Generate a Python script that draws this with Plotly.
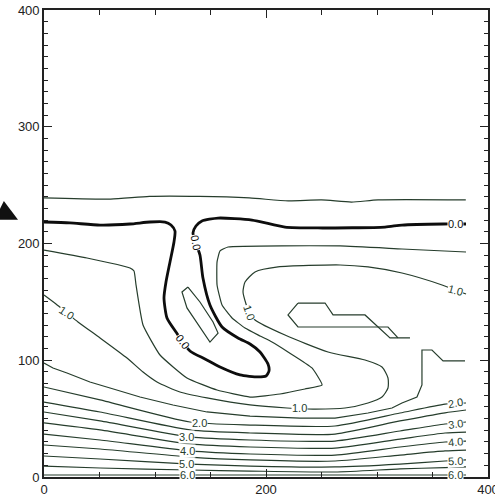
import plotly.graph_objects as go

# ---------------- contour lines (data units) ----------------
top_x = [0, 60, 95, 140, 185, 220, 250, 277, 301, 380]
top_y = [239, 238, 240.3, 240.3, 239, 236.5, 237.3, 235.5, 237.3, 237.3]

zero_x = [0, 23.4, 50.5, 77.5, 95.5, 109, 114.4, 118, 117.1, 113.5, 109.9, 108.1, 110.8, 118.9,
          131.5, 145, 158.6, 176.6, 192.8, 200, 202.7, 201.8, 194.6, 185.6, 174.8, 160.4, 149.5, 143.2, 140.5,
          134.2, 136.9, 142.3, 156.8, 187.4, 217.1, 246.8, 307.2, 322.5, 359.5, 380.2]
zero_y = [218.4, 217.6, 215.8, 216.7, 218.4, 218.4, 215.8, 210.7, 201.3, 184.2, 167.0, 153.3, 136.2, 124.2,
          107.9, 101.1, 94.2, 87.4, 85.7, 86.5, 90.8, 96.8, 107.1, 113.9, 119.1, 128.5, 147.3, 170.4, 190.1,
          209.0, 215.0, 219.3, 221.8, 220.1, 214.1, 213.3, 214.1, 215.8, 216.7, 216.7]

loop_x = [129.7, 124.3, 128.8, 140.5, 149.5, 156.8, 152.3, 140.5, 129.7]
loop_y = [162.7, 158.5, 144.8, 128.5, 115.6, 123.3, 132.8, 149.9, 162.7]

half_x = [0, 38.7, 77.5, 81.1, 82.9, 89.2, 104.5, 128.8, 155.9, 185.6, 212.6, 235.1, 250.5,
          241.4, 219.8, 205.4, 194.6, 181.1, 169.4, 160.4, 155.9, 155.9, 158.6, 165.8, 266.7, 322.5, 380.2]
half_y = [194.4, 187.6, 179.0, 176.4, 164.5, 130.2, 104.5, 84.8, 74.5, 68.5, 71.1, 75.4, 78.8,
          93.4, 107.1, 115.6, 120.8, 127.6, 136.2, 147.3, 164.5, 184.2, 193.6, 197.0, 197.9, 195.3, 192.7]

one_x = [0, 10.8, 20.7, 30.6, 50.5, 74.8, 89.2, 101.8, 122.5, 146.8, 185.6, 218.9, 242.3, 271.2, 291.9,
         304.5, 309.9, 309.9, 304.5, 289.2, 255.9, 217.1, 190.1, 184.7, 182, 179.3, 181.1, 190.1, 210.8,
         266.7, 291.9, 322.5, 358.6, 370.3, 380.2]
one_y = [155.9, 148.2, 140.5, 132.8, 119.1, 101.9, 89.9, 81.4, 72.8, 67.7, 61.7, 59.1, 58.2, 59.1, 63.4,
         68.5, 76.2, 84.8, 94.2, 100.2, 107.1, 121.6, 134.5, 141.3, 148.2, 158.5, 167.0, 175.6, 179.9,
         181.6, 179.9, 174.7, 164.5, 160.2, 156.7]

onehalf_x = [0, 8.1, 20.7, 41.4, 59.5, 86.5, 116.2, 146.8, 185.6, 230.6, 262.2, 291.9, 313.5, 322.5,
             336, 340.5, 340.5, 349.5, 359.5, 379.3]
onehalf_y = [97.6, 93.4, 89.1, 81.4, 76.2, 68.5, 61.7, 55.7, 52.2, 50.5, 50.5, 54.8, 59.1, 63.4,
             68.5, 78.8, 108.8, 108.8, 99.4, 99.4]

poly1_x = [228.8, 253.2, 260.4, 289.2, 311.7, 329.7]
poly1_y = [149.0, 149.0, 138.8, 138.8, 119.1, 119.1]
poly2_x = [228.8, 219.8, 228.8, 309.9, 318.9]
poly2_y = [149.0, 138.8, 128.5, 128.5, 119.1]

# bottom family of contours (2.0 ... 6.0 every 0.5)
low_x = [0, 50.5, 131.5, 185.6, 262.2, 320.7, 361.3, 380.2]
low_levels = ["2.0", "2.5", "3.0", "3.5", "4.0", "4.5", "5.0", "5.5", "6.0"]
low_y = [
    [77.1, 66.0, 47.1, 44.5, 43.7, 54.8, 62.5, 63.4],
    [64.2, 55.7, 40.3, 37.7, 36.8, 48.0, 55.0, 57.4],
    [55.7, 48.0, 34.3, 31.7, 30.8, 39.4, 45.4, 47.1],
    [46.3, 40.3, 28.3, 25.7, 24.8, 32.5, 37.7, 38.5],
    [36.8, 31.7, 22.3, 19.7, 18.8, 25.7, 30.0, 30.8],
    [27.4, 24.0, 17.1, 14.6, 13.7, 18.8, 22.3, 23.1],
    [18.0, 15.4, 11.1, 9.4, 8.6, 11.1, 13.7, 14.6],
    [9.4, 7.7, 6.0, 5.1, 4.3, 6.9, 8.1, 8.6],
    [1.7, 1.7, 1.7, 1.7, 1.7, 1.7, 1.7, 1.7],
]

# contour labels: text, x, y, angle
label_text = ["0.0", "0.0", "0.0", "1.0", "1.0", "1.0", "1.0",
              "2.0", "3.0", "4.0", "5.0", "6.0",
              "2.0", "3.0", "4.0", "5.0", "6.0"]
label_x = [125.2, 136.9, 370.3, 20.7, 230.6, 184.7, 370.3,
           140.5, 128.8, 129.7, 128.8, 129.7,
           370.3, 370.3, 370.3, 370.3, 370.3]
label_y = [115.6, 200.4, 216.7, 140.5, 59.1, 141.3, 160.2,
           46.3, 34.3, 22.3, 11.1, 1.7,
           63.4, 45.4, 30.0, 13.7, 1.7]
label_angle = [54, 78, 0, 33, 0, 70, 15,
               0, 0, 0, 0, 0,
               -10, -8, -5, -3, 0]

x_ticks = [0, 200, 400]
y_ticks = [0, 100, 200, 300, 400]

THIN = "#263d2c"
THICK = "#0d0d0d"

fig = go.Figure()

def add_line(x, y, color=THIN, width=1.2, shape="spline", smoothing=0.6):
    fig.add_trace(go.Scatter(x=x, y=y, mode="lines",
                             line=dict(color=color, width=width, shape=shape,
                                       smoothing=smoothing if shape == "spline" else None),
                             hoverinfo="skip", showlegend=False))

add_line(top_x, top_y)
add_line(half_x, half_y, smoothing=0.4)
add_line(one_x, one_y)
add_line(onehalf_x, onehalf_y, shape="linear")
add_line(poly1_x, poly1_y, shape="linear")
add_line(poly2_x, poly2_y, shape="linear")
add_line(loop_x, loop_y, shape="linear")
for ys in low_y:
    add_line(low_x, ys)
add_line(zero_x, zero_y, color=THICK, width=2.8)

for t, lx, ly, ang in zip(label_text, label_x, label_y, label_angle):
    col = THICK if t == "0.0" else THIN
    fig.add_annotation(x=lx, y=ly, text=t, showarrow=False, textangle=ang,
                       font=dict(family="Liberation Sans", size=11, color=col),
                       bgcolor="white", borderpad=0)

# arrow in left margin
fig.add_annotation(x=-0.0586, y=0.551, xref="paper", yref="paper", text="",
                   showarrow=True, ax=-30, ay=-9, arrowhead=2, arrowsize=1.5,
                   arrowwidth=2.8, arrowcolor="#111111")

axis_common = dict(showline=True, linecolor="#222222", linewidth=1.6, mirror="allticks",
                   ticks="inside", tickcolor="#222222", tickwidth=1.3, showgrid=False,
                   zeroline=False, ticklabeloverflow="allow", automargin=False,
                   tickfont=dict(family="Liberation Sans", size=13, color="#222222"))

fig.update_xaxes(range=[0, 400], tickvals=x_ticks, ticktext=[str(v) for v in x_ticks], ticklen=8,
                 minor=dict(ticks="inside", dtick=50, tick0=0, ticklen=5, tickcolor="#222222"),
                 **axis_common)
fig.update_yaxes(range=[0, 400], tickvals=y_ticks, ticktext=[str(v) for v in y_ticks], ticklen=8,
                 minor=dict(ticks="inside", dtick=10, tick0=0, ticklen=4, tickcolor="#222222"),
                 **axis_common)

fig.update_layout(width=495, height=496, margin=dict(l=44, r=7, t=10, b=19, autoexpand=False),
                  plot_bgcolor="white", paper_bgcolor="white")

fig.write_html("out.html")
